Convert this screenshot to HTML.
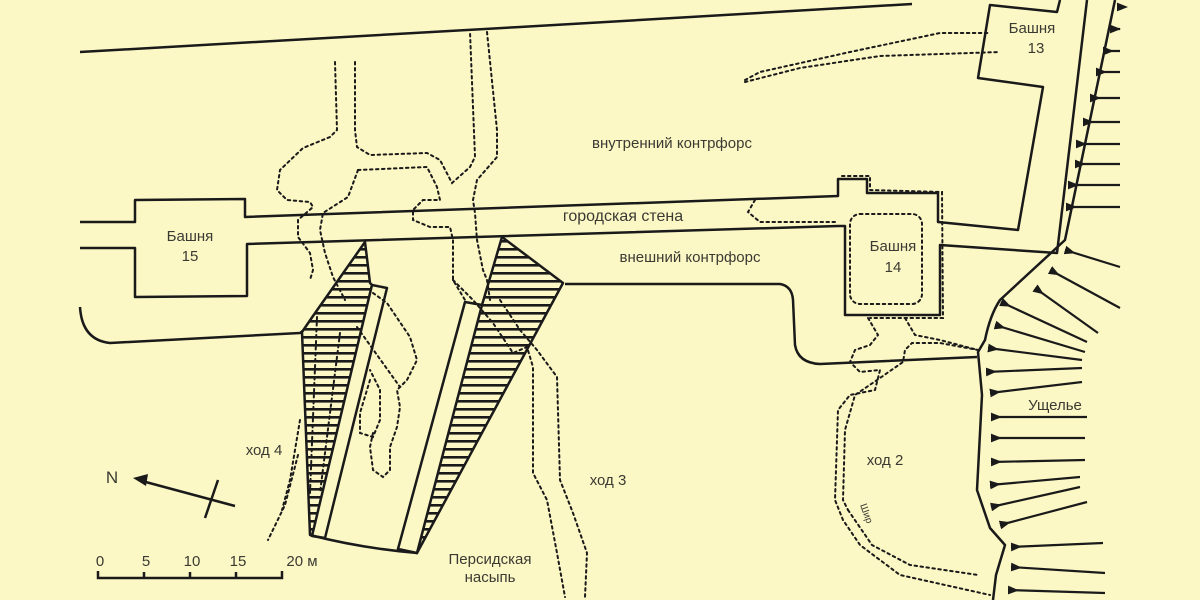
<!DOCTYPE html>
<html><head><meta charset="utf-8"><style>
html,body{margin:0;padding:0;background:#fcf8c6;}
svg{display:block;}
text{font-family:"Liberation Sans",sans-serif;fill:#3a3a32;}
</style></head><body>
<svg width="1200" height="600" viewBox="0 0 1200 600" xmlns="http://www.w3.org/2000/svg">
<defs>
<pattern id="h" width="10" height="8" patternUnits="userSpaceOnUse"><rect width="10" height="8" fill="#fcf8c6"/><rect y="0" width="10" height="2.6" fill="#1a1a1a"/></pattern>
<marker id="tri" markerWidth="5" markerHeight="4" refX="0" refY="2" orient="auto"><path d="M0,0 L5,2 L0,4 z" fill="#1a1a1a"/></marker>
</defs>
<rect width="1200" height="600" fill="#fcf8c6"/>
<g fill="none" stroke="#1a1a1a" stroke-width="2.5" stroke-linejoin="round">
<path d="M80,52 L520,27 L912,4"/>
<path d="M80,222 L135,222 L135,200 L245,199 L245,217 L838,196 L838,179 L867,179 L867,193 L938,193 L938,222 L1018,230 L1043,87 L978,78 L990,5 L1057,12 L1060,0"/>
<path d="M80,248 L135,248 L135,297 L247,296 L247,244 L838,226 L845,226 L845,315 L940,315 L940,245 L1057,253 L1087,0"/>
<path d="M565,284 L780,284 Q792,286 793,300 L795,345 Q798,363 820,364 L977,357"/>
<path d="M80,307 Q82,340 110,343 L300,333 L304,330"/>
<path d="M1115,0 L1065,240 L1000,300 Q990,315 985,340 L978,352 L982,395 L977,490 L990,528 L1005,545 L996,575 L993,600"/>
</g>
<g stroke="#1a1a1a" stroke-width="2.5" stroke-linejoin="round">
<path d="M365,242 L313,316 L302,332 L310,535 L313,535 L372,285 L370,283 Z" fill="url(#h)"/>
<path d="M502,237 L563,283 L417,553 L398,549 L482,305 Z" fill="url(#h)"/>
<path d="M372,285 L387,288 L325,538 L312,536 Z" fill="#fcf8c6"/>
<path d="M465,302 L482,305 L417,553 L398,549 Z" fill="#fcf8c6"/>
<path d="M310,535 Q360,548 417,553" fill="none"/>
</g>
<g fill="none" stroke="#1a1a1a" stroke-width="2" stroke-dasharray="2.5 3.5" stroke-linecap="round">
<path d="M335,62 L337,130 L330,137 L303,148 L280,170 L277,190 L287,200 L310,202 L313,207 L298,220 L298,237 L310,253 L313,270 L310,280"/>
<path d="M355,62 L355,130 L357,147 L370,155 L427,153 L440,160 L452,183 L470,167 L475,157 L470,32"/>
<path d="M487,32 L497,130 L497,157 L477,180 L473,200 L475,213 L477,240 L483,270 L487,280 L490,300"/>
<path d="M358,170 L427,167 L437,187 L440,200 L423,200 L413,210 L413,220 L430,227 L450,227 L453,240 L453,280 L465,300"/>
<path d="M358,170 L348,197 L323,213 L320,230 L325,253 L333,277 L345,300"/>
<path d="M373,293 L387,303 L410,337 L417,360 L407,380 L397,390 L400,407 L397,427 L390,447 L390,470 L383,477 L373,470 L370,447 L373,433"/>
<path d="M370,380 L360,413 L360,433 L373,437 L380,420 L380,390 L370,370"/>
<path d="M357,327 L400,387"/>
<path d="M317,317 L310,493"/><path d="M340,333 L320,493"/>
<path d="M300,420 L290,480 L282,510"/>
<path d="M298,455 L285,505 L268,540"/>
<path d="M453,280 L473,300 L493,323 L513,353 L527,347 L533,367 L533,473 L547,500 L557,553 L565,597"/>
<path d="M500,300 L520,330 L537,350 L557,377 L560,480 L573,513 L587,553 L585,597"/>
<path d="M755,200 L748,212 L760,222 L837,222"/>
<path d="M842,176 L870,176 L870,190 L942,192 L943,318 L870,318"/>
<rect x="850" y="214" width="72" height="90" rx="10"/>
<path d="M868,318 L878,335 L870,345 L855,350 L850,362 L860,372 L880,370 L875,390 L850,395 L838,410 L835,500 L843,520 L860,545 L900,575 L990,595"/>
<path d="M905,318 L915,335 L940,340 L978,350 L940,343 L912,343 L905,350 L903,362 L880,378 L855,395 L845,430 L843,500 L848,510"/>
<path d="M848,510 L872,545 L910,565 L978,575"/>
<path d="M745,80 L760,72 L850,52 L940,33 L990,33"/>
<path d="M745,82 L800,68 L880,56 L1000,52"/>
</g>
<g stroke="#1a1a1a" stroke-width="2.2" marker-start="url(#tri)">
<line x1="1117" y1="7" x2="1120" y2="7"/>
<line x1="1110" y1="29" x2="1120" y2="29"/>
<line x1="1103" y1="51" x2="1120" y2="51"/>
<line x1="1096" y1="72" x2="1120" y2="72"/>
<line x1="1090" y1="98" x2="1120" y2="98"/>
<line x1="1083" y1="122" x2="1120" y2="122"/>
<line x1="1076" y1="144" x2="1120" y2="144"/>
<line x1="1075" y1="164" x2="1120" y2="164"/>
<line x1="1068" y1="185" x2="1120" y2="185"/>
<line x1="1066" y1="207" x2="1120" y2="207"/>
<line x1="1065" y1="250" x2="1120" y2="267"/>
<line x1="1050" y1="270" x2="1120" y2="308"/>
<line x1="1035" y1="288" x2="1098" y2="333"/>
<line x1="1001" y1="302" x2="1087" y2="342"/>
<line x1="995" y1="325" x2="1085" y2="352"/>
<line x1="988" y1="348" x2="1082" y2="360"/>
<line x1="986" y1="372" x2="1082" y2="368"/>
<line x1="990" y1="393" x2="1082" y2="382"/>
<line x1="991" y1="417" x2="1087" y2="417"/>
<line x1="991" y1="438" x2="1085" y2="438"/>
<line x1="991" y1="462" x2="1085" y2="460"/>
<line x1="990" y1="485" x2="1080" y2="477"/>
<line x1="991" y1="507" x2="1080" y2="487"/>
<line x1="1000" y1="525" x2="1087" y2="502"/>
<line x1="1011" y1="547" x2="1103" y2="543"/>
<line x1="1011" y1="567" x2="1105" y2="573"/>
<line x1="1008" y1="590" x2="1105" y2="593"/>
</g>
<g stroke="#1a1a1a" stroke-width="2.5" fill="none">
<line x1="235" y1="506" x2="142" y2="481"/>
<line x1="218" y1="480" x2="205" y2="518"/>
<path d="M98,571 L98,578 L282,578 L282,571 M144,578 L144,572 M190,578 L190,572 M236,578 L236,572"/>
</g>
<path d="M133,478 L148,474 L146,486 Z" fill="#1a1a1a"/>
<g font-size="15">
<text x="1032" y="33" text-anchor="middle">Башня</text>
<text x="1036" y="53" text-anchor="middle">13</text>
<text x="672" y="148" text-anchor="middle">внутренний контрфорс</text>
<text x="623" y="221" text-anchor="middle" font-size="16">городская стена</text>
<text x="690" y="262" text-anchor="middle">внешний контрфорс</text>
<text x="190" y="241" text-anchor="middle">Башня</text>
<text x="190" y="261" text-anchor="middle">15</text>
<text x="893" y="251" text-anchor="middle">Башня</text>
<text x="893" y="272" text-anchor="middle">14</text>
<text x="1055" y="410" text-anchor="middle">Ущелье</text>
<text x="885" y="465" text-anchor="middle">ход 2</text>
<text x="608" y="485" text-anchor="middle">ход 3</text>
<text x="264" y="455" text-anchor="middle">ход 4</text>
<text x="112" y="483" text-anchor="middle" font-size="17">N</text>
<text x="100" y="566" text-anchor="middle">0</text>
<text x="146" y="566" text-anchor="middle">5</text>
<text x="192" y="566" text-anchor="middle">10</text>
<text x="238" y="566" text-anchor="middle">15</text>
<text x="302" y="566" text-anchor="middle">20 м</text>
<text x="490" y="564" text-anchor="middle">Персидская</text>
<text x="490" y="582" text-anchor="middle">насыпь</text>
<text x="860" y="505" font-size="10" transform="rotate(70 860 505)">Шир</text>
</g>
</svg>
</body></html>
